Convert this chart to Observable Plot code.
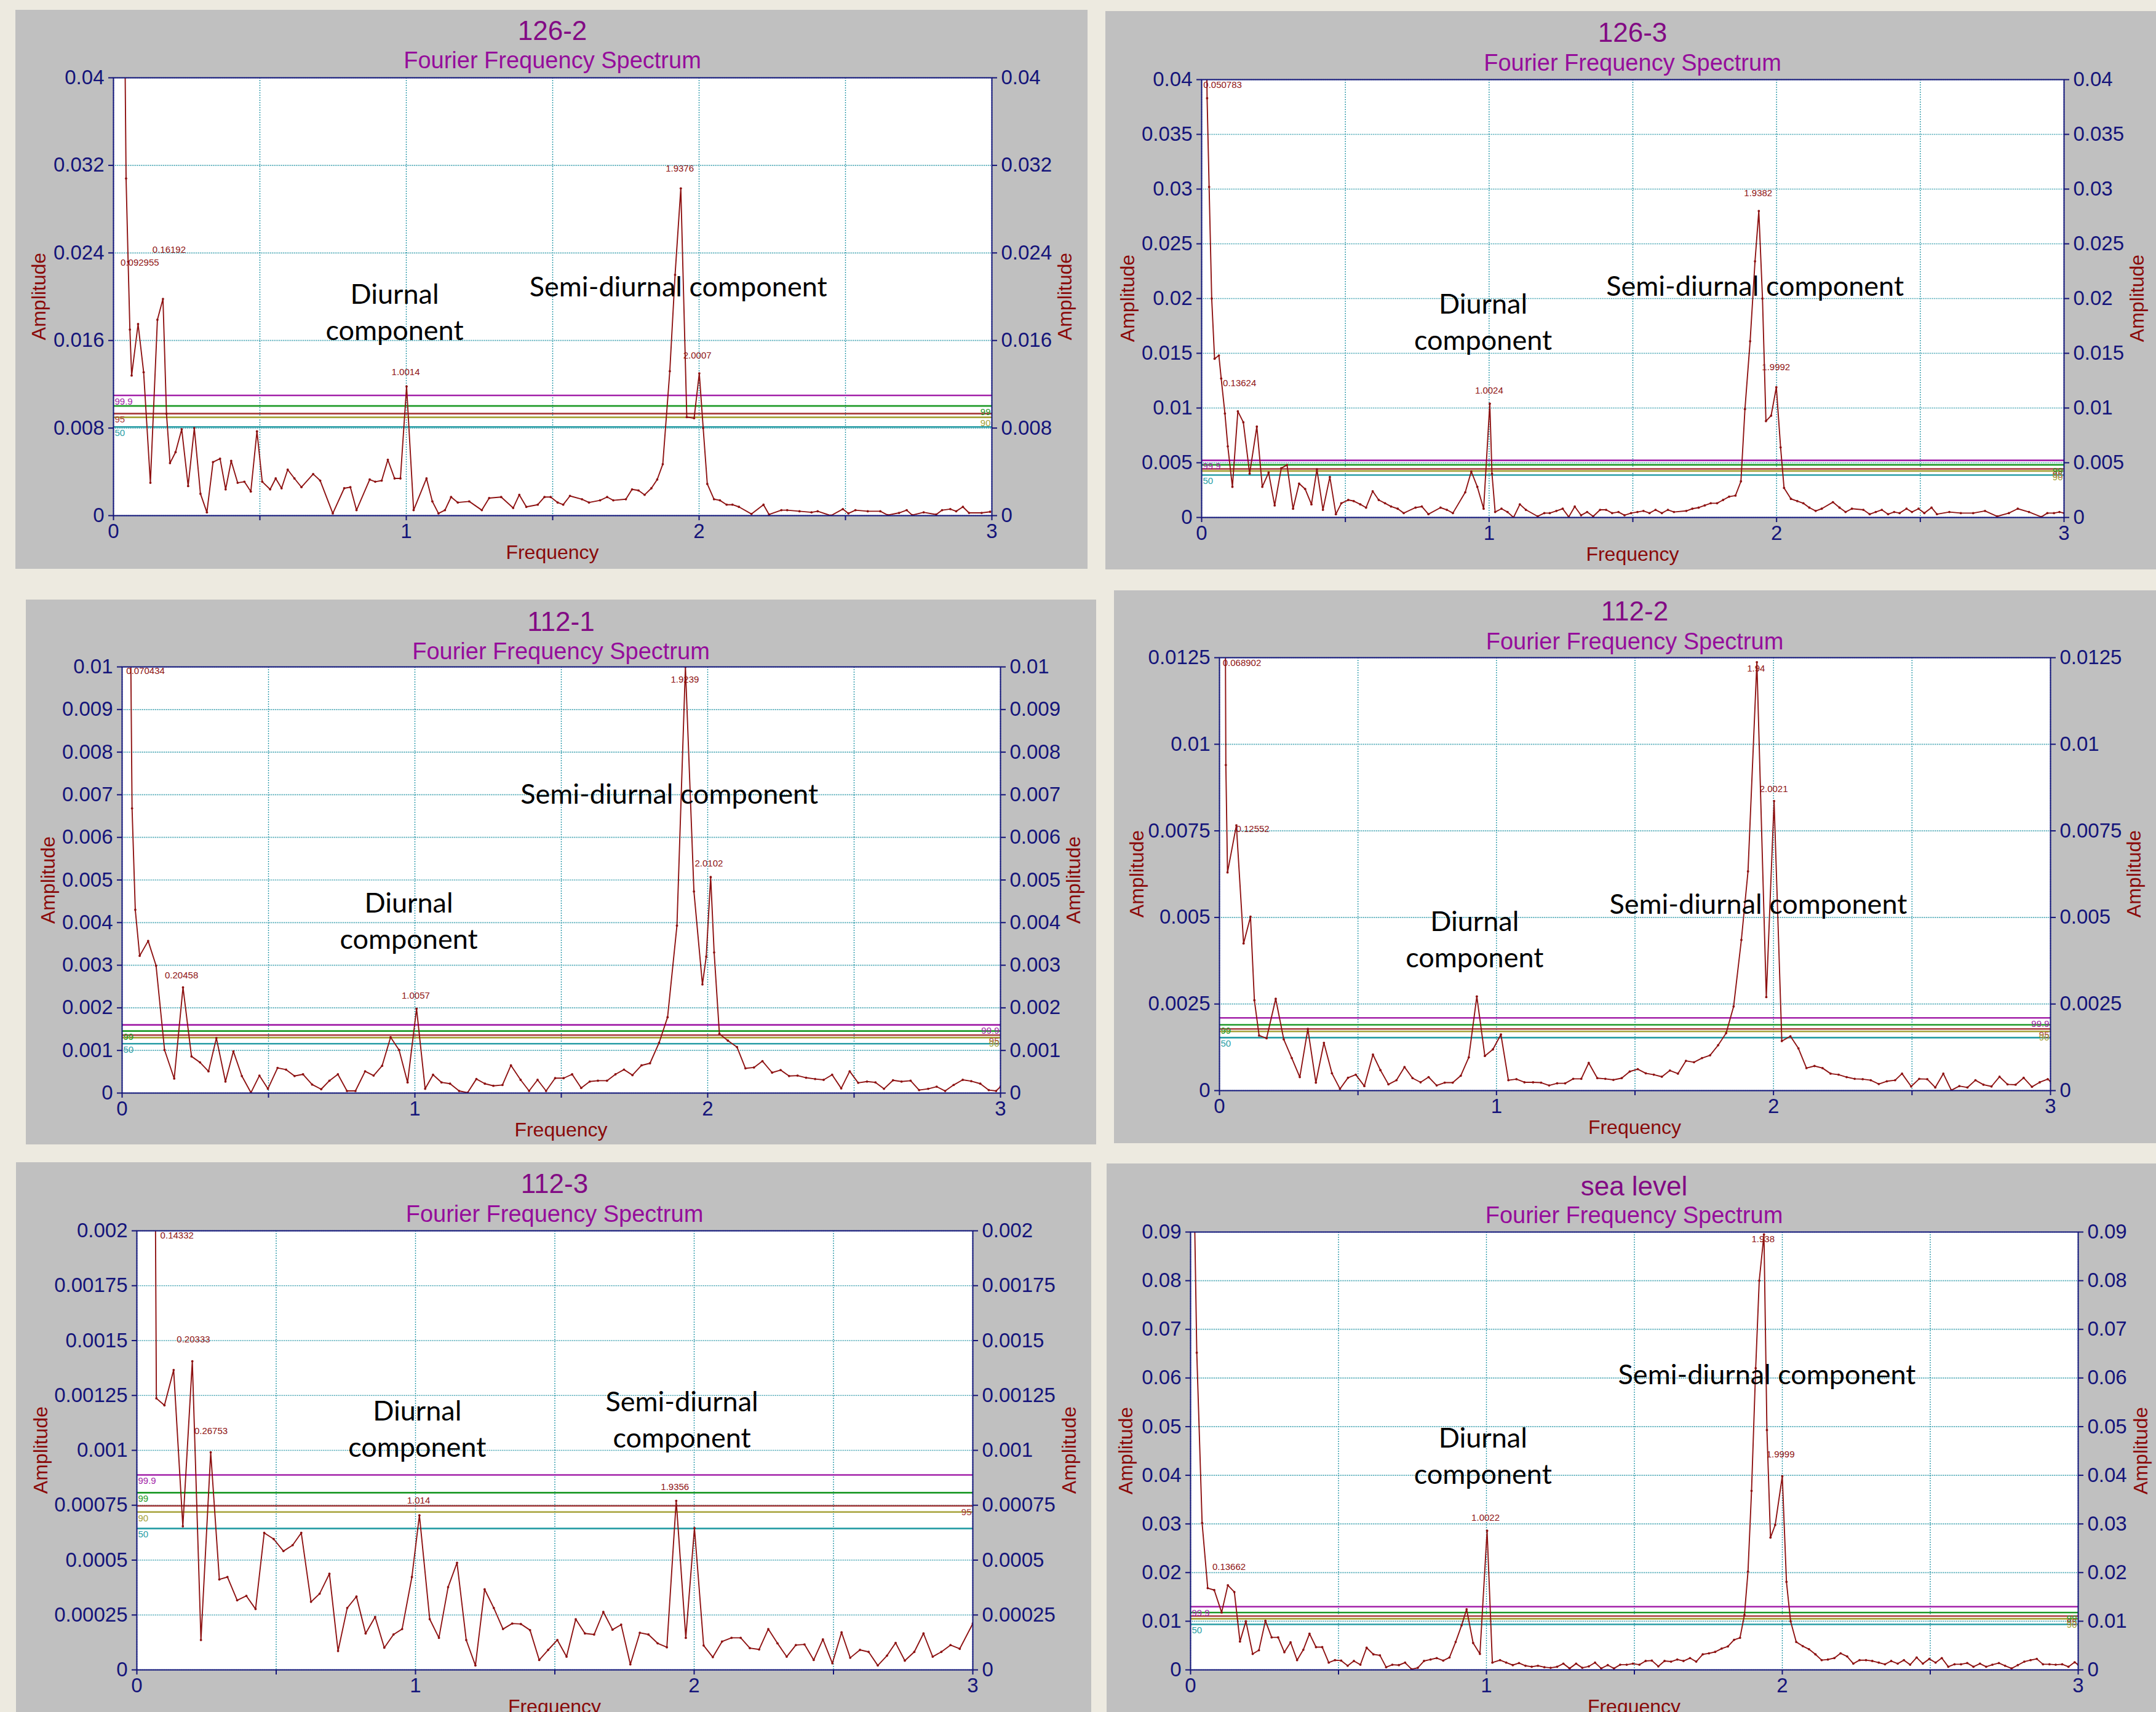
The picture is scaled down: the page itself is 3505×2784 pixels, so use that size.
<!DOCTYPE html>
<html><head><meta charset="utf-8">
<script src="https://cdn.jsdelivr.net/npm/d3@7"></script>
<script src="https://cdn.jsdelivr.net/npm/@observablehq/plot@0.6"></script>
<style>
html,body{margin:0;padding:0;background:#EDEAE0;overflow:hidden;width:3505px;height:2784px;}
#page{position:relative;width:3505px;height:2784px;overflow:hidden;}
.panel{position:absolute;background:#C0C0C0;overflow:hidden;}
.panel svg{position:absolute;left:0;top:0;}
.t{position:absolute;white-space:nowrap;font-family:"Liberation Sans",Arial,sans-serif;line-height:1;}
</style></head><body><div id="page"></div>
<script>
// ---------- data ----------
const titles = ["126-2", "126-3", "112-1", "112-2", "112-3", "sea level"];
const subtitle = "Fourier Frequency Spectrum";
const xTicks = [0, 0.5, 1, 1.5, 2, 2.5, 3];
const levelNames = ["99.9", "99", "95", "90", "50"];

const ticks126_2 = [0, 0.008, 0.016, 0.024, 0.032, 0.04];
const ticks126_3 = [0, 0.005, 0.01, 0.015, 0.02, 0.025, 0.03, 0.035, 0.04];
const ticks112_1 = [0, 0.001, 0.002, 0.003, 0.004, 0.005, 0.006, 0.007, 0.008, 0.009, 0.01];
const ticks112_2 = [0, 0.0025, 0.005, 0.0075, 0.01, 0.0125];
const ticks112_3 = [0, 0.00025, 0.0005, 0.00075, 0.001, 0.00125, 0.0015, 0.00175, 0.002];
const ticksSea = [0, 0.01, 0.02, 0.03, 0.04, 0.05, 0.06, 0.07, 0.08, 0.09];

const sig126_2 = [0.01098, 0.01002, 0.00932, 0.00898, 0.00810];
const sig126_3 = [0.00522, 0.00481, 0.00444, 0.00425, 0.00388];
const sig112_1 = [0.00160, 0.001455, 0.00136, 0.00130, 0.001157];
const sig112_2 = [0.00210, 0.00190, 0.00178, 0.00171, 0.00153];
const sig112_3 = [0.000888, 0.000807, 0.000747, 0.000719, 0.000644];
const sigSea = [0.01298, 0.01179, 0.01106, 0.01051, 0.00936];

const spec126_2 = [[0.035,0.055],[0.043,0.0308],[0.050,0.0232],[0.056,0.0170],[0.062,0.0128],[0.084,0.0175],[0.103,0.0131],[0.126,0.0030],[0.150,0.0179],[0.169,0.0198],[0.181,0.0093],[0.193,0.0048],[0.212,0.0058],[0.233,0.0079],[0.255,0.0027],[0.276,0.0080],[0.297,0.0020],[0.319,0.0003],[0.340,0.0049],[0.364,0.0052],[0.383,0.0024],[0.402,0.0050],[0.424,0.0030],[0.447,0.0031],[0.469,0.0022],[0.490,0.0077],[0.508,0.0031],[0.535,0.0024],[0.554,0.0034],[0.574,0.0025],[0.595,0.0042],[0.618,0.0034],[0.642,0.0026],[0.682,0.0038],[0.706,0.0032],[0.749,0.0002],[0.788,0.0025],[0.809,0.0026],[0.830,0.0005],[0.875,0.0033],[0.894,0.0031],[0.916,0.0032],[0.937,0.0051],[0.960,0.0034],[0.980,0.0034],[1.001,0.0118],[1.025,0.0005],[1.069,0.0034],[1.089,0.0013],[1.110,0.0002],[1.132,0.0005],[1.153,0.0017],[1.176,0.0012],[1.215,0.0013],[1.258,0.0005],[1.283,0.0016],[1.324,0.0017],[1.365,0.0007],[1.386,0.0019],[1.410,0.0008],[1.449,0.0010],[1.472,0.0017],[1.493,0.0017],[1.517,0.0012],[1.536,0.0010],[1.559,0.0018],[1.600,0.0015],[1.624,0.0012],[1.662,0.0014],[1.686,0.0017],[1.707,0.0014],[1.750,0.0015],[1.771,0.0024],[1.793,0.0023],[1.814,0.0019],[1.837,0.0025],[1.857,0.0033],[1.876,0.0047],[1.900,0.0132],[1.918,0.0220],[1.9376,0.0299],[1.958,0.0090],[1.983,0.0089],[2.0007,0.0130],[2.014,0.0080],[2.028,0.0029],[2.051,0.0015],[2.071,0.0014],[2.094,0.0010],[2.114,0.0010],[2.136,0.0008],[2.179,0.00015],[2.220,0.0010],[2.239,0.0001],[2.281,0.0005],[2.301,0.0005],[2.343,0.0004],[2.384,0.0003],[2.405,0.0004],[2.450,0.0000],[2.491,0.0006],[2.510,0.0002],[2.534,0.0005],[2.576,0.0004],[2.619,0.0004],[2.644,0.00005],[2.683,0.00025],[2.709,0.0005],[2.728,0.00005],[2.767,0.0003],[2.810,0.0001],[2.830,0.0005],[2.858,0.0006],[2.878,0.0004],[2.901,0.0008],[2.922,0.00025],[2.965,0.00025],[2.994,0.00035]];

const spec126_3 = [[0.010,0.060],[0.019,0.0383],[0.026,0.0302],[0.035,0.0200],[0.045,0.0145],[0.060,0.0148],[0.068,0.0127],[0.081,0.0095],[0.091,0.0065],[0.107,0.0028],[0.126,0.0097],[0.145,0.0087],[0.167,0.0040],[0.192,0.0083],[0.211,0.0028],[0.233,0.0041],[0.254,0.0011],[0.277,0.0045],[0.297,0.0048],[0.318,0.0008],[0.339,0.0031],[0.360,0.0026],[0.382,0.0012],[0.401,0.0044],[0.422,0.0007],[0.446,0.0037],[0.467,0.0003],[0.486,0.0013],[0.510,0.0016],[0.529,0.0015],[0.552,0.0012],[0.572,0.0009],[0.595,0.0024],[0.616,0.0016],[0.638,0.0013],[0.659,0.0010],[0.682,0.0008],[0.703,0.0004],[0.744,0.0009],[0.766,0.0010],[0.789,0.0003],[0.831,0.0009],[0.853,0.0007],[0.874,0.0004],[0.917,0.0023],[0.938,0.0042],[0.959,0.0028],[0.981,0.0008],[1.0024,0.0104],[1.010,0.0040],[1.021,0.0005],[1.043,0.0008],[1.064,0.0005],[1.085,0.0000],[1.107,0.0012],[1.128,0.0007],[1.169,0.0001],[1.192,0.0004],[1.211,0.0004],[1.234,0.0006],[1.256,0.0008],[1.277,0.00005],[1.298,0.0010],[1.320,0.0002],[1.341,0.0005],[1.362,0.0001],[1.386,0.0007],[1.407,0.0007],[1.428,0.0004],[1.450,0.0005],[1.471,0.0002],[1.494,0.0004],[1.516,0.0005],[1.537,0.0006],[1.558,0.0004],[1.579,0.0007],[1.601,0.0004],[1.622,0.0007],[1.643,0.0005],[1.686,0.0006],[1.707,0.0008],[1.729,0.0009],[1.750,0.0011],[1.771,0.0013],[1.793,0.0013],[1.814,0.0016],[1.835,0.0019],[1.857,0.0020],[1.876,0.0033],[1.890,0.0099],[1.908,0.0161],[1.925,0.0234],[1.9382,0.0280],[1.951,0.0200],[1.963,0.0088],[1.981,0.0093],[1.9992,0.0119],[2.014,0.0064],[2.026,0.0027],[2.050,0.0017],[2.072,0.0015],[2.093,0.0013],[2.114,0.0009],[2.136,0.0006],[2.157,0.0008],[2.196,0.0014],[2.219,0.0009],[2.240,0.0005],[2.262,0.0008],[2.302,0.0007],[2.324,0.0003],[2.345,0.0005],[2.366,0.0007],[2.388,0.0003],[2.409,0.0005],[2.428,0.0004],[2.452,0.0008],[2.471,0.0005],[2.494,0.0008],[2.514,0.0004],[2.539,0.0009],[2.558,0.0003],[2.601,0.0005],[2.641,0.0004],[2.684,0.0004],[2.725,0.0006],[2.767,0.0001],[2.808,0.0004],[2.839,0.0008],[2.878,0.0005],[2.921,0.00005],[2.942,0.0004],[2.965,0.0004],[2.984,0.0005],[3.0,0.0004]];

const spec112_1 = [[0.025,0.014],[0.034,0.00668],[0.045,0.0043],[0.060,0.00322],[0.089,0.00357],[0.116,0.00299],[0.145,0.00101],[0.178,0.00034],[0.208,0.00248],[0.237,0.00086],[0.266,0.00072],[0.295,0.00051],[0.322,0.00129],[0.353,0.00027],[0.380,0.00098],[0.409,0.00040],[0.440,0.00001],[0.469,0.00041],[0.498,0.00010],[0.531,0.00059],[0.560,0.00055],[0.589,0.00040],[0.618,0.00044],[0.649,0.00020],[0.680,0.00009],[0.708,0.00029],[0.737,0.00044],[0.768,0.00005],[0.797,0.00005],[0.830,0.00051],[0.859,0.00041],[0.888,0.00064],[0.917,0.00131],[0.946,0.00101],[0.975,0.00025],[1.0057,0.00198],[1.035,0.00010],[1.062,0.00043],[1.091,0.00025],[1.120,0.00022],[1.151,0.00005],[1.180,0.00001],[1.210,0.00033],[1.239,0.00022],[1.268,0.00017],[1.299,0.00019],[1.328,0.00065],[1.361,0.00031],[1.390,0.00005],[1.419,0.00031],[1.448,0.00005],[1.479,0.00035],[1.508,0.00035],[1.537,0.00044],[1.568,0.00012],[1.597,0.00027],[1.625,0.00029],[1.656,0.00029],[1.685,0.00044],[1.714,0.00055],[1.743,0.00042],[1.774,0.00065],[1.803,0.00070],[1.834,0.00118],[1.863,0.00178],[1.895,0.00393],[1.9239,0.0100],[1.953,0.00473],[1.982,0.00255],[1.995,0.0032],[2.0102,0.00507],[2.022,0.0033],[2.040,0.00139],[2.069,0.00123],[2.100,0.00108],[2.129,0.00058],[2.158,0.00060],[2.187,0.00075],[2.220,0.00048],[2.249,0.00054],[2.278,0.00040],[2.307,0.00041],[2.336,0.00036],[2.367,0.00033],[2.396,0.00031],[2.425,0.00043],[2.456,0.00011],[2.485,0.00051],[2.514,0.00024],[2.544,0.00027],[2.573,0.00025],[2.602,0.00010],[2.633,0.00030],[2.662,0.00027],[2.693,0.00029],[2.722,0.00007],[2.753,0.00010],[2.782,0.00015],[2.811,0.00005],[2.840,0.00019],[2.871,0.00031],[2.900,0.00028],[2.931,0.00022],[2.960,0.00007],[2.985,0.00005],[3.0,0.00015]];

const spec112_2 = [[0.020,0.016],[0.023,0.0094],[0.029,0.0063],[0.061,0.00766],[0.087,0.00425],[0.112,0.00502],[0.126,0.00261],[0.143,0.00159],[0.170,0.00151],[0.203,0.00265],[0.232,0.00148],[0.261,0.00094],[0.290,0.00039],[0.319,0.00178],[0.348,0.00023],[0.377,0.00138],[0.406,0.00050],[0.435,0.00005],[0.464,0.00037],[0.492,0.00046],[0.523,0.00013],[0.554,0.00104],[0.581,0.00059],[0.610,0.00018],[0.639,0.00030],[0.668,0.00068],[0.697,0.00036],[0.726,0.00024],[0.755,0.00039],[0.784,0.00015],[0.813,0.00023],[0.842,0.00023],[0.871,0.00043],[0.900,0.00096],[0.929,0.00272],[0.958,0.00100],[0.987,0.00119],[1.016,0.00162],[1.043,0.00030],[1.072,0.00033],[1.101,0.00024],[1.132,0.00024],[1.161,0.00023],[1.190,0.00015],[1.219,0.00021],[1.248,0.00021],[1.277,0.00034],[1.306,0.00034],[1.333,0.00080],[1.364,0.00036],[1.393,0.00034],[1.422,0.00031],[1.452,0.00036],[1.481,0.00055],[1.510,0.00062],[1.539,0.00050],[1.568,0.00046],[1.597,0.00040],[1.626,0.00058],[1.655,0.00049],[1.684,0.00086],[1.713,0.00082],[1.742,0.00094],[1.771,0.00102],[1.800,0.00131],[1.829,0.00166],[1.856,0.00243],[1.884,0.00435],[1.908,0.00633],[1.940,0.01237],[1.974,0.0027],[2.0021,0.00836],[2.030,0.00143],[2.061,0.00157],[2.090,0.00122],[2.119,0.00065],[2.148,0.00071],[2.177,0.00065],[2.206,0.00049],[2.235,0.00046],[2.264,0.00039],[2.293,0.00034],[2.322,0.00033],[2.351,0.00030],[2.380,0.00019],[2.409,0.00027],[2.439,0.00030],[2.464,0.00049],[2.497,0.00012],[2.526,0.00034],[2.555,0.00033],[2.584,0.00009],[2.613,0.00049],[2.642,0.00001],[2.671,0.00013],[2.700,0.00009],[2.729,0.00030],[2.758,0.00017],[2.787,0.00012],[2.816,0.00040],[2.845,0.00018],[2.874,0.00017],[2.903,0.00037],[2.933,0.00011],[2.961,0.00024],[2.990,0.00033],[3.0,0.00027]];

const spec112_3 = [[0.063,0.0030],[0.070,0.001237],[0.099,0.001205],[0.132,0.001366],[0.165,0.000654],[0.199,0.001406],[0.230,0.000136],[0.265,0.000991],[0.296,0.000412],[0.325,0.000423],[0.360,0.000317],[0.393,0.000337],[0.426,0.000277],[0.457,0.000624],[0.491,0.000596],[0.526,0.000541],[0.559,0.000568],[0.590,0.000624],[0.625,0.000310],[0.656,0.000347],[0.691,0.000438],[0.722,0.000086],[0.755,0.000282],[0.788,0.000334],[0.821,0.000166],[0.855,0.000241],[0.888,0.000101],[0.921,0.000161],[0.952,0.000186],[0.987,0.000423],[1.014,0.000704],[1.051,0.000231],[1.084,0.000146],[1.117,0.000377],[1.149,0.000488],[1.182,0.000136],[1.215,0.000020],[1.248,0.000367],[1.281,0.000282],[1.314,0.000186],[1.347,0.000211],[1.378,0.000209],[1.411,0.000181],[1.444,0.000045],[1.476,0.000091],[1.509,0.000136],[1.542,0.000060],[1.575,0.000231],[1.608,0.000166],[1.641,0.000161],[1.674,0.000264],[1.707,0.000183],[1.738,0.000206],[1.771,0.000025],[1.805,0.000169],[1.836,0.000161],[1.869,0.000121],[1.902,0.000103],[1.9356,0.000770],[1.970,0.000146],[2.001,0.000646],[2.034,0.000111],[2.067,0.000058],[2.100,0.000129],[2.134,0.000146],[2.167,0.000146],[2.200,0.000099],[2.233,0.000093],[2.266,0.000186],[2.299,0.000121],[2.332,0.000060],[2.365,0.000113],[2.396,0.000116],[2.429,0.000045],[2.462,0.000139],[2.496,0.000030],[2.529,0.000171],[2.560,0.000055],[2.595,0.000091],[2.626,0.000082],[2.659,0.000020],[2.692,0.000065],[2.723,0.000123],[2.756,0.000042],[2.790,0.000082],[2.823,0.000166],[2.856,0.000060],[2.887,0.000082],[2.920,0.000113],[2.953,0.000096],[3.0,0.000211]];

const specSea = [[0.009,0.110],[0.021,0.0652],[0.039,0.0302],[0.058,0.0168],[0.080,0.0164],[0.105,0.0118],[0.126,0.0174],[0.148,0.0160],[0.167,0.00583],[0.187,0.0100],[0.210,0.00328],[0.231,0.00404],[0.253,0.0101],[0.274,0.00668],[0.296,0.00668],[0.317,0.00362],[0.338,0.00566],[0.360,0.0020],[0.381,0.00413],[0.402,0.00745],[0.424,0.00468],[0.445,0.00468],[0.467,0.00149],[0.488,0.0020],[0.509,0.00191],[0.531,0.00085],[0.552,0.00183],[0.574,0.00106],[0.595,0.00455],[0.618,0.00319],[0.640,0.00298],[0.661,0.00055],[0.682,0.00106],[0.704,0.00098],[0.725,0.00149],[0.747,0.00013],[0.768,0.00043],[0.789,0.00183],[0.811,0.00213],[0.832,0.00243],[0.854,0.00191],[0.875,0.00255],[0.896,0.00574],[0.916,0.00915],[0.933,0.01247],[0.955,0.00553],[0.978,0.00328],[1.0022,0.0286],[1.020,0.0015],[1.046,0.0020],[1.067,0.00149],[1.089,0.00098],[1.110,0.00140],[1.132,0.00085],[1.153,0.00064],[1.174,0.00085],[1.196,0.00055],[1.217,0.00043],[1.239,0.00064],[1.260,0.00128],[1.281,0.00030],[1.303,0.00128],[1.324,0.00043],[1.346,0.00072],[1.367,0.00149],[1.388,0.00030],[1.410,0.00098],[1.431,0.00030],[1.452,0.00106],[1.474,0.00106],[1.495,0.00128],[1.517,0.00106],[1.538,0.00183],[1.559,0.00191],[1.581,0.00072],[1.602,0.00183],[1.624,0.00170],[1.645,0.00213],[1.666,0.00183],[1.688,0.00243],[1.709,0.00170],[1.731,0.00319],[1.752,0.00340],[1.773,0.00370],[1.795,0.00438],[1.816,0.00481],[1.837,0.00617],[1.857,0.00660],[1.872,0.0113],[1.884,0.0202],[1.896,0.0368],[1.910,0.062],[1.922,0.080],[1.938,0.0895],[1.948,0.0493],[1.960,0.0272],[1.976,0.0298],[1.9999,0.0398],[2.014,0.0181],[2.028,0.0100],[2.047,0.00574],[2.069,0.00489],[2.090,0.00426],[2.112,0.00319],[2.133,0.0020],[2.154,0.00213],[2.176,0.00243],[2.197,0.00340],[2.219,0.00277],[2.240,0.00128],[2.261,0.0020],[2.283,0.0020],[2.304,0.00183],[2.326,0.00149],[2.347,0.00115],[2.368,0.00183],[2.390,0.00128],[2.411,0.0020],[2.432,0.00106],[2.454,0.00255],[2.475,0.00128],[2.497,0.00226],[2.518,0.00149],[2.539,0.00243],[2.561,0.00064],[2.582,0.00115],[2.604,0.00115],[2.625,0.00140],[2.646,0.00064],[2.668,0.00128],[2.689,0.00064],[2.710,0.00106],[2.732,0.00140],[2.753,0.00085],[2.775,0.00030],[2.796,0.00098],[2.818,0.00170],[2.839,0.0020],[2.860,0.00226],[2.881,0.00115],[2.903,0.00115],[2.924,0.00106],[2.946,0.00115],[2.967,0.00064],[2.988,0.00157],[3.0,0.00106]];

const peaks126_2 = [["0.092955",0.09,0.0231],["0.16192",0.19,0.0243],["1.0014",0.998,0.0131],["1.9376",1.934,0.0317],["2.0007",1.994,0.0146]];
const peaks126_3 = [["0.050783",0.073,0.0395],["0.13624",0.132,0.01226],["1.0024",1.000,0.01157],["1.9382",1.936,0.0296],["1.9992",1.998,0.01372]];
const peaks112_1 = [["0.070434",0.080,0.0099],["0.20458",0.203,0.00276],["1.0057",1.003,0.00228],["1.9239",1.922,0.0097],["2.0102",2.004,0.00539]];
const peaks112_2 = [["0.068902",0.081,0.01235],["0.12552",0.120,0.00755],["1.94",1.937,0.01219],["2.0021",2.001,0.0087]];
const peaks112_3 = [["0.14332",0.144,0.001979],["0.20333",0.203,0.001504],["0.26753",0.266,0.001088],["1.014",1.011,0.000772],["1.9356",1.931,0.000832]];
const peaksSea = [["0.13662",0.130,0.0212],["1.0022",0.997,0.0312],["1.938",1.935,0.0885],["1.9999",1.994,0.0443]];

const notes126_2 = [["Diurnal\ncomponent",0.96,0.01875],["Semi-diurnal component",1.929,0.0211]];
const notes126_3 = [["Diurnal\ncomponent",0.979,0.01805],["Semi-diurnal component",1.925,0.0213]];
const notes112_1 = [["Diurnal\ncomponent",0.979,0.00408],["Semi-diurnal component",1.869,0.00706]];
const notes112_2 = [["Diurnal\ncomponent",0.921,0.004417],["Semi-diurnal component",1.945,0.005448]];
const notes112_3 = [["Diurnal\ncomponent",1.006,0.001107],["Semi-diurnal\ncomponent",1.956,0.001149]];
const notesSea = [["Diurnal\ncomponent",0.988,0.0443],["Semi-diurnal component",1.948,0.0611]];

// ---------- layout & style ----------
const levelColors = ["#A21FA8", "#1E9A28", "#A83A3A", "#A6A23A", "#2A9EA6"];
const NAVY = "#14147A", RED = "#8E1212", PURPLE = "#820A84", PURPLE2 = "#950D9B", AXRED = "#8A0A0A", GRID = "#2A98A8";
const FONT = "'Liberation Sans', Arial, sans-serif";

const panels = [
  {title: titles[0], spec: spec126_2, ticks: ticks126_2, sig: sig126_2, peaks: peaks126_2, notes: notes126_2,
   sides: ["left","right","left","right","left"], box: [25,16,1743,909], plot: [184,1612,126,838], tb: 65, sb: 111, ampL: 63, ampR: 1731},
  {title: titles[1], spec: spec126_3, ticks: ticks126_3, sig: sig126_3, peaks: peaks126_3, notes: notes126_3,
   sides: ["left","right","right","right","left"], box: [1797,18,1708,908], plot: [1953,3355,129,841], tb: 68, sb: 115, ampL: 1833, ampR: 3474},
  {title: titles[2], spec: spec112_1, ticks: ticks112_1, sig: sig112_1, peaks: peaks112_1, notes: notes112_1,
   sides: ["right","left","right","right","left"], box: [42,975,1740,886], plot: [198,1626,1084,1777], tb: 1026, sb: 1072, ampL: 78, ampR: 1745},
  {title: titles[3], spec: spec112_2, ticks: ticks112_2, sig: sig112_2, peaks: peaks112_2, notes: notes112_2,
   sides: ["right","left","right","right","left"], box: [1811,960,1694,899], plot: [1982,3333,1069,1773], tb: 1009, sb: 1056, ampL: 1848, ampR: 3469},
  {title: titles[4], spec: spec112_3, ticks: ticks112_3, sig: sig112_3, peaks: peaks112_3, notes: notes112_3,
   sides: ["left","left","right","left","left"], box: [26,1890,1748,894], plot: [222,1581,2001,2715], tb: 1940, sb: 1987, ampL: 66, ampR: 1738},
  {title: titles[5], spec: specSea, ticks: ticksSea, sig: sigSea, peaks: peaksSea, notes: notesSea,
   sides: ["left","right","right","right","left"], box: [1799,1892,1706,892], plot: [1935,3378,2003,2715], tb: 1944, sb: 1989, ampL: 1830, ampR: 3480}
];

const page = document.getElementById("page");

function addText(parent, txt, opts) {
  const d = document.createElement("div");
  d.className = "t";
  d.textContent = txt;
  d.style.fontSize = opts.fs + "px";
  d.style.color = opts.color;
  d.style.left = opts.x + "px";
  if (opts.rotate) {
    d.style.top = opts.y + "px";
    d.style.transform = "translate(-50%,-50%) rotate(-90deg)";
  } else {
    d.style.top = (opts.baseline - 0.8465 * opts.fs) + "px";
    d.style.transform = "translateX(-50%)";
  }
  parent.appendChild(d);
}

for (const p of panels) {
  const [bx, by, bw, bh] = p.box;
  const [pl, pr, pt, pb] = p.plot;
  const div = document.createElement("div");
  div.className = "panel";
  div.style.left = bx + "px"; div.style.top = by + "px";
  div.style.width = bw + "px"; div.style.height = bh + "px";
  page.appendChild(div);

  const pts = p.spec.map(([f, a]) => ({f, a}));
  const yMax = p.ticks[p.ticks.length - 1];
  const levelMarks = [];
  p.sig.forEach((v, i) => {
    levelMarks.push(Plot.ruleY([v], {stroke: levelColors[i], strokeWidth: 2.6}));
  });
  p.sig.forEach((v, i) => {
    const right = p.sides[i] === "right";
    levelMarks.push(Plot.text([levelNames[i]], {
      x: right ? 3 : 0, y: () => v, text: d => d,
      textAnchor: right ? "end" : "start", dx: right ? -2 : 2, dy: 10,
      fill: levelColors[i], fontSize: 15, fontFamily: FONT
    }));
  });

  const svg = Plot.plot({
    width: bw, height: bh,
    marginLeft: pl - bx, marginRight: bx + bw - pr, marginTop: pt - by, marginBottom: by + bh - pb,
    x: {domain: [0, 3]},
    y: {domain: [0, yMax]},
    style: {background: "transparent", fontFamily: FONT, fontSize: "33px", color: NAVY, overflow: "visible"},
    marks: [
      Plot.frame({fill: "white", stroke: null}),
      Plot.gridX({ticks: xTicks, stroke: GRID, strokeOpacity: 1, strokeWidth: 1.4, strokeDasharray: "2,2"}),
      Plot.gridY({ticks: p.ticks, stroke: GRID, strokeOpacity: 1, strokeWidth: 1.7, strokeDasharray: "1.5,1.5"}),
      ...levelMarks,
      Plot.line(pts, {x: "f", y: "a", stroke: RED, strokeWidth: 1.9, clip: true}),
      Plot.dot(pts, {x: "f", y: "a", r: 1.9, fill: RED, stroke: null, clip: true}),
      Plot.text(p.peaks, {x: d => d[1], y: d => d[2], text: d => d[0], fill: RED, fontSize: 15, fontFamily: FONT}),
      Plot.text(p.notes, {x: d => d[1], y: d => d[2], text: d => d[0], fill: "black", fontSize: 45, fontFamily: "Lato, 'Open Sans', sans-serif", lineHeight: 1.31}),
      Plot.axisX({ticks: xTicks, tickFormat: d => (d % 1 === 0 ? String(d) : ""), tickSize: 8, tickPadding: 5, label: null, stroke: NAVY, fill: NAVY, strokeWidth: 2}),
      Plot.axisY({anchor: "left", ticks: p.ticks, tickFormat: d => String(d), tickSize: 8, tickPadding: 7, label: null, stroke: NAVY, fill: NAVY, strokeWidth: 2}),
      Plot.axisY({anchor: "right", ticks: p.ticks, tickFormat: d => String(d), tickSize: 8, tickPadding: 7, label: null, stroke: NAVY, fill: NAVY, strokeWidth: 2}),
      Plot.frame({stroke: NAVY, strokeWidth: 2})
    ]
  });
  div.appendChild(svg);

  const cx = (pl + pr) / 2 - bx;
  addText(div, p.title, {fs: 44, color: PURPLE, x: cx, baseline: p.tb - by});
  addText(div, subtitle, {fs: 38, color: PURPLE2, x: cx, baseline: p.sb - by});
  addText(div, "Amplitude", {fs: 32, color: AXRED, x: p.ampL - bx, y: (pt + pb) / 2 - by, rotate: true});
  addText(div, "Amplitude", {fs: 32, color: AXRED, x: p.ampR - bx, y: (pt + pb) / 2 - by, rotate: true});
  addText(div, "Frequency", {fs: 32, color: AXRED, x: cx, baseline: pb + 71 - by});
}
</script></body></html>
